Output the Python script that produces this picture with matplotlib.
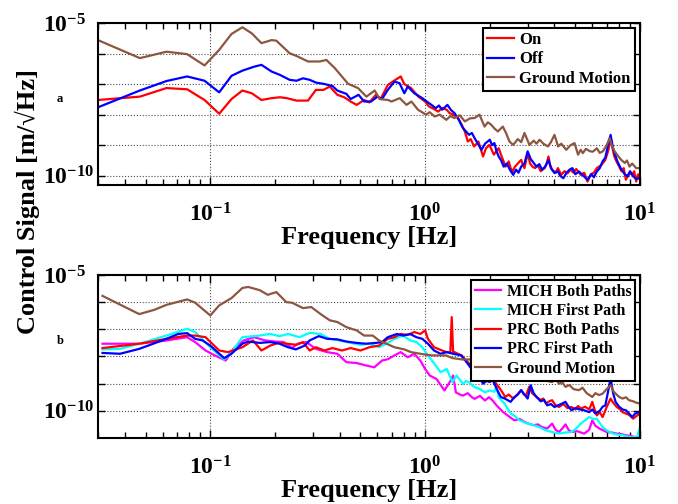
import numpy as np
import matplotlib
matplotlib.use("Agg")
from matplotlib import pyplot as plt
from matplotlib.ticker import FixedLocator, FixedFormatter, LogLocator, NullFormatter, NullLocator

plt.rcParams['font.family'] = ['Liberation Serif', 'DejaVu Serif']
plt.rcParams['font.weight'] = 'bold'
plt.rcParams['mathtext.fontset'] = 'custom'
plt.rcParams['mathtext.rm'] = 'Liberation Serif:bold'
plt.rcParams['mathtext.it'] = 'Liberation Serif:bold:italic'
plt.rcParams['mathtext.bf'] = 'Liberation Serif:bold'

# ---- panel a : levels are log10 of the signal ----
f_on = [0.030, 0.047, 0.0625, 0.078, 0.094, 0.110, 0.1255, 0.141, 0.156, 0.173,
        0.193, 0.211, 0.227, 0.252, 0.285, 0.31, 0.336, 0.36, 0.39, 0.42,
        0.45, 0.48, 0.52, 0.55, 0.59, 0.62, 0.67, 0.72, 0.77, 0.80,
        0.86, 0.93,
        1.00, 1.04, 1.09, 1.15, 1.20, 1.26, 1.30, 1.35, 1.42, 1.48,
        1.53, 1.58, 1.63, 1.69, 1.77, 1.82, 1.86, 1.92, 1.99, 2.04,
        2.09, 2.14, 2.20, 2.28, 2.37, 2.45, 2.50, 2.55, 2.62, 2.70,
        2.80, 2.85, 2.90, 3.00, 3.08, 3.16, 3.25, 3.35, 3.45, 3.60,
        3.68, 3.75, 3.82, 3.90, 4.05, 4.15, 4.30, 4.45, 4.60, 4.75,
        4.90, 5.05, 5.30, 5.50, 5.70, 5.90, 6.10, 6.30, 6.60, 6.90,
        7.10, 7.30, 7.45, 7.60, 7.80, 8.00, 8.20, 8.40, 8.60, 8.90,
        9.20, 9.40, 9.60, 9.80, 10.0]
v_on = [-7.52, -7.41, -7.13, -7.17, -7.52, -7.97, -7.49, -7.21, -7.30, -7.52,
        -7.46, -7.43, -7.46, -7.54, -7.54, -7.19, -7.19, -7.08, -7.35, -7.43,
        -7.57, -7.68, -7.52, -7.60, -7.35, -7.49, -7.03, -6.88, -6.75, -7.00,
        -7.13, -7.41,
        -7.57, -7.73, -7.80, -7.90, -7.78, -7.84, -7.95, -8.00, -8.10, -8.33,
        -8.55, -8.88, -8.80, -9.04, -8.88, -9.15, -9.37, -9.10, -8.99, -9.15,
        -9.31, -9.20, -9.10, -9.40, -9.70, -9.53, -9.75, -9.86, -9.70, -9.60,
        -9.48, -9.65, -9.75, -9.26, -9.60, -9.70, -9.75, -9.65, -9.85, -9.75,
        -9.60, -9.37, -9.65, -9.80, -9.90, -9.75, -9.97, -9.85, -9.92, -9.80,
        -9.90, -9.78, -9.97, -9.90, -10.19, -9.95, -9.90, -9.75, -9.65, -9.48,
        -9.20, -8.82, -9.10, -9.37, -9.55, -9.70, -9.85, -9.75, -10.13, -9.90,
        -9.97, -9.85, -10.19, -9.95, -10.10]

f_off = [0.030, 0.047, 0.0625, 0.078, 0.094, 0.110, 0.1255, 0.141, 0.160, 0.173,
         0.193, 0.211, 0.234, 0.252, 0.27, 0.29, 0.31, 0.336, 0.37, 0.39,
         0.43, 0.45, 0.49, 0.52, 0.56, 0.60, 0.63, 0.67, 0.72, 0.76,
         0.80, 0.83, 0.89,
         0.97, 1.04, 1.08, 1.12, 1.16, 1.20, 1.27, 1.32, 1.37, 1.43,
         1.50, 1.55, 1.60, 1.65, 1.70, 1.76, 1.83, 1.90, 2.00, 2.05,
         2.10, 2.15, 2.20, 2.26, 2.32, 2.40, 2.48, 2.57, 2.65, 2.72,
         2.80, 2.90, 3.00, 3.10, 3.20, 3.30, 3.40, 3.50, 3.62, 3.75,
         3.85, 4.00, 4.15, 4.25, 4.40, 4.55, 4.70, 4.85, 5.00, 5.20,
         5.45, 5.70, 5.95, 6.10, 6.30, 6.50, 6.70, 6.90, 7.10, 7.30,
         7.50, 7.80, 8.00, 8.20, 8.50, 8.80, 9.00, 9.30, 9.60, 10.0]
v_off = [-7.76, -7.21, -6.90, -6.75, -6.89, -7.27, -6.73, -6.56, -6.43, -6.37,
         -6.59, -6.70, -6.86, -6.89, -6.81, -6.86, -6.95, -6.99, -7.06, -7.21,
         -7.32, -7.49, -7.35, -7.57, -7.57, -7.41, -7.49, -7.19, -6.92, -6.97,
         -7.30, -7.08, -7.30,
         -7.46, -7.62, -7.70, -7.79, -7.70, -7.84, -7.68, -7.85, -7.95, -8.15,
         -8.44, -8.55, -8.66, -8.60, -8.77, -8.95, -9.15, -8.95, -8.82, -9.00,
         -8.93, -9.20, -9.37, -9.50, -9.70, -9.60, -9.80, -9.97, -9.80, -9.90,
         -9.70, -9.60, -9.20, -9.45, -9.58, -9.70, -9.62, -9.80, -9.70, -9.48,
         -9.75, -9.91, -9.85, -10.00, -10.08, -9.90, -9.80, -9.75, -9.95, -9.86,
         -10.00, -10.13, -9.95, -10.05, -9.86, -9.75, -9.53, -9.40, -9.00, -8.66,
         -9.10, -9.48, -9.65, -9.80, -9.95, -10.02, -9.85, -10.02, -10.10, -10.08]

f_gm_a = [0.030, 0.047, 0.0625, 0.078, 0.094, 0.110, 0.1255, 0.141, 0.156, 0.173,
          0.193, 0.203, 0.234, 0.252, 0.285, 0.323, 0.347, 0.38, 0.438, 0.487,
          0.533, 0.582, 0.615, 0.672, 0.697, 0.762, 0.819, 0.863, 0.927,
          1.01, 1.05, 1.107, 1.17, 1.255, 1.31, 1.37, 1.45, 1.53, 1.62,
          1.70, 1.79, 1.89, 1.96, 2.03, 2.10, 2.18, 2.30, 2.38, 2.47,
          2.57, 2.70, 2.80, 2.90, 3.06, 3.20, 3.30, 3.41, 3.55, 3.73,
          3.85, 4.00, 4.16, 4.30, 4.54, 4.75, 4.96, 5.15, 5.30, 5.42,
          5.60, 5.86, 6.04, 6.30, 6.50, 6.72, 7.00, 7.22, 7.40, 7.62,
          7.90, 8.18, 8.50, 8.70, 8.94, 9.20, 9.60, 10.0]
v_gm_a = [-5.56, -6.15, -5.94, -6.02, -6.39, -5.88, -5.36, -5.14, -5.34, -5.66,
          -5.56, -5.58, -5.99, -6.08, -6.26, -6.26, -6.21, -6.48, -6.99, -7.13,
          -7.41, -7.21, -7.49, -7.52, -7.57, -7.46, -7.68, -7.57, -7.84,
          -8.00, -7.92, -8.06, -8.00, -8.17, -8.05, -8.11, -8.02, -8.22, -8.12,
          -8.11, -8.00, -8.39, -8.25, -8.33, -8.45, -8.55, -8.39, -8.60, -8.88,
          -8.99, -8.80, -8.90, -8.60, -8.99, -8.85, -8.95, -8.82, -8.95, -9.04,
          -8.90, -8.66, -9.04, -8.95, -9.15, -9.00, -8.93, -9.31, -9.15, -9.26,
          -9.12, -9.20, -9.21, -9.10, -9.25, -9.20, -9.00, -8.77, -9.00, -9.20,
          -9.35, -9.48, -9.58, -9.50, -9.70, -9.60, -9.75, -9.75]

# ---- panel b ----
f_mich_both = [0.0315, 0.0467, 0.0625, 0.078, 0.085, 0.095, 0.105, 0.118, 0.128, 0.143,
               0.16, 0.18, 0.20, 0.22, 0.24, 0.255, 0.28, 0.31, 0.35, 0.39,
               0.43, 0.48, 0.53, 0.58, 0.63, 0.67, 0.72, 0.77, 0.83, 0.89,
               0.95, 1.00, 1.05, 1.13, 1.23, 1.30, 1.35,
               1.39, 1.45, 1.50, 1.58, 1.65, 1.70, 1.80, 1.90, 1.98, 2.05,
               2.15, 2.30, 2.45, 2.60, 2.75, 2.90, 3.05, 3.20, 3.35, 3.50,
               3.70, 3.90, 4.05, 4.20, 4.35, 4.50, 4.65, 4.80, 5.10, 5.50,
               5.80, 6.00, 6.20, 6.50, 6.75, 7.00, 7.40, 7.80, 8.20, 8.60,
               9.00, 9.50, 10.0]
v_mich_both = [-7.53, -7.53, -7.41, -7.29, -7.47, -7.78, -7.96, -8.15, -7.72, -7.41,
               -7.29, -7.41, -7.45, -7.47, -7.69, -7.53, -7.47, -7.72, -7.84, -7.90,
               -8.21, -8.24, -8.33, -8.40, -8.15, -8.10, -7.96, -7.84, -8.03, -7.90,
               -8.15, -8.46, -8.70, -8.83, -9.25, -8.95, -8.70,
               -9.32, -9.40, -9.44, -9.35, -9.50, -9.56, -9.45, -9.62, -9.50, -9.60,
               -9.80, -10.04, -10.20, -10.35, -10.30, -10.41, -10.48, -10.53, -10.50, -10.60,
               -10.65, -10.47, -10.70, -10.78, -10.65, -10.50, -10.70, -10.78, -10.75, -10.84,
               -10.70, -10.35, -10.55, -10.66, -10.72, -10.78, -10.80, -10.84, -10.86, -10.90,
               -10.92, -10.97, -10.98]

f_mich_first = [0.0315, 0.038, 0.0467, 0.0625, 0.078, 0.085, 0.100, 0.116, 0.1255, 0.141,
                0.16, 0.17, 0.19, 0.21, 0.23, 0.26, 0.29, 0.325, 0.36, 0.40,
                0.45, 0.50, 0.55, 0.61, 0.66, 0.72, 0.79, 0.85, 0.91, 0.97,
                1.03, 1.12, 1.18, 1.26, 1.34, 1.40,
                1.50, 1.55, 1.60, 1.65, 1.70, 1.80, 1.90, 2.00, 2.10, 2.15,
                2.20, 2.35, 2.50, 2.62, 2.75, 2.95, 3.20, 3.40, 3.65, 3.90,
                4.20, 4.50, 4.80, 5.05, 5.30, 5.55, 5.80, 6.05, 6.30, 6.50,
                6.70, 7.10, 7.50, 7.90, 8.30, 8.80, 9.20, 9.70, 10.0]
v_mich_first = [-7.74, -7.72, -7.53, -7.23, -6.98, -7.10, -7.66, -8.11, -7.84, -7.29,
                -7.25, -7.23, -7.17, -7.25, -7.17, -7.29, -7.13, -7.17, -7.35, -7.41,
                -7.50, -7.57, -7.53, -7.66, -7.53, -7.35, -7.23, -7.41, -7.47, -7.66,
                -7.96, -8.33, -8.58, -8.46, -8.95, -8.70,
                -9.01, -8.90, -8.95, -9.05, -9.13, -9.20, -9.32, -9.25, -9.30, -9.10,
                -9.50, -9.75, -10.10, -10.20, -10.35, -10.45, -10.53, -10.60, -10.72, -10.78,
                -10.84, -10.80, -10.78, -10.65, -10.47, -10.35, -10.23, -10.30, -10.29, -10.45,
                -10.60, -10.75, -10.84, -10.88, -10.90, -10.95, -10.97, -10.95, -10.60]

f_prc_both = [0.0315, 0.0467, 0.0625, 0.078, 0.085, 0.095, 0.110, 0.121, 0.141, 0.158,
              0.173, 0.19, 0.207, 0.227, 0.252, 0.27, 0.29, 0.31, 0.34, 0.37,
              0.41, 0.45, 0.50, 0.55, 0.61, 0.67, 0.72, 0.77, 0.83, 0.89,
              0.95, 1.00, 1.03, 1.10, 1.20, 1.26, 1.31, 1.33, 1.35,
              1.37, 1.42, 1.48, 1.53, 1.58, 1.65, 1.72, 1.80, 1.86, 1.92,
              2.00, 2.08, 2.14, 2.20, 2.28, 2.36, 2.45, 2.57, 2.65, 2.72,
              2.80, 2.88, 2.95, 3.05, 3.15, 3.30, 3.45, 3.55, 3.65, 3.78,
              3.90, 4.05, 4.20, 4.40, 4.60, 4.80, 5.00, 5.15, 5.30, 5.55,
              5.80, 6.00, 6.15, 6.30, 6.50, 6.70, 6.85, 7.00, 7.30, 7.50,
              7.80, 8.10, 8.30, 8.60, 8.90, 9.30, 9.60, 10.0]
v_prc_both = [-7.69, -7.53, -7.35, -7.23, -7.23, -7.29, -7.78, -7.84, -7.66, -7.41,
              -7.78, -7.60, -7.50, -7.53, -7.57, -7.47, -7.78, -7.66, -7.78, -7.69,
              -7.78, -7.69, -7.78, -7.66, -7.60, -7.35, -7.29, -7.17, -7.21, -7.10,
              -7.17, -7.04, -7.35, -7.66, -7.78, -7.84, -7.85, -6.55, -7.85,
              -7.84, -7.90, -7.96, -8.10, -8.21, -8.33, -8.50, -8.81, -8.70, -8.87,
              -8.75, -8.81, -9.00, -9.12, -9.30, -9.49, -9.40, -9.55, -9.45, -9.35,
              -9.24, -9.40, -9.43, -9.12, -9.35, -9.49, -9.60, -9.55, -9.73, -9.65,
              -9.61, -9.80, -9.86, -9.75, -9.90, -9.86, -9.95, -9.82, -9.92, -9.85,
              -9.95, -9.67, -9.95, -10.17, -10.05, -10.23, -10.05, -9.86, -9.55, -9.70,
              -9.86, -9.95, -10.05, -10.10, -10.15, -10.29, -10.20, -10.10]

f_prc_first = [0.0315, 0.038, 0.0467, 0.0625, 0.071, 0.078, 0.085, 0.092, 0.100, 0.116,
               0.1255, 0.141, 0.150, 0.17, 0.19, 0.21, 0.23, 0.25, 0.275, 0.29,
               0.32, 0.35, 0.39, 0.43, 0.48, 0.53, 0.59, 0.63, 0.67, 0.74,
               0.79, 0.85, 0.91, 0.97, 1.03, 1.10, 1.18, 1.26, 1.35,
               1.47, 1.52, 1.58, 1.64, 1.70, 1.75, 1.80, 1.86, 1.93, 2.00,
               2.05, 2.10, 2.17, 2.25, 2.35, 2.50, 2.60, 2.70, 2.80, 2.90,
               3.00, 3.10, 3.20, 3.30, 3.45, 3.58, 3.70, 3.85, 4.00, 4.15,
               4.30, 4.50, 4.65, 4.80, 5.00, 5.25, 5.50, 5.80, 6.00, 6.20,
               6.50, 6.70, 6.90, 7.10, 7.30, 7.50, 7.70, 8.00, 8.30, 8.60,
               8.90, 9.20, 9.50, 10.0]
v_prc_first = [-7.87, -7.90, -7.72, -7.35, -7.17, -7.14, -7.35, -7.41, -7.60, -8.06,
               -7.90, -7.53, -7.45, -7.50, -7.47, -7.53, -7.66, -7.74, -7.60, -7.41,
               -7.25, -7.35, -7.37, -7.45, -7.50, -7.53, -7.50, -7.47, -7.29, -7.17,
               -7.23, -7.17, -7.29, -7.35, -7.53, -7.78, -7.90, -7.84, -7.90,
               -7.96, -8.10, -8.27, -8.45, -8.64, -8.87, -8.80, -9.00, -8.90, -8.94,
               -8.85, -9.00, -9.25, -9.49, -9.55, -9.67, -9.50, -9.40, -9.24, -9.40,
               -9.55, -9.06, -9.35, -9.49, -9.65, -9.60, -9.80, -9.75, -9.86, -9.80,
               -9.75, -9.67, -9.85, -9.98, -9.90, -9.95, -9.98, -10.05, -9.95, -10.10,
               -10.00, -9.85, -9.80, -9.30, -8.81, -9.35, -9.67, -9.85, -9.95, -9.98,
               -10.10, -10.23, -10.10, -10.04]

f_gm_b = [0.0315, 0.0467, 0.055, 0.0625, 0.078, 0.085, 0.100, 0.110, 0.1255, 0.141,
          0.150, 0.170, 0.185, 0.203, 0.226, 0.24, 0.27, 0.295, 0.325, 0.36,
          0.39, 0.43, 0.48, 0.52, 0.57, 0.61, 0.66, 0.72, 0.80, 0.86,
          0.95, 1.07, 1.25, 1.34, 1.49, 1.65, 1.85, 2.10, 2.40,
          2.70, 2.80, 2.95, 3.10, 3.30, 3.40, 3.55, 3.70, 3.90, 4.05,
          4.20, 4.35, 4.50, 4.70, 4.90, 5.20, 5.40, 5.65, 6.00, 6.20,
          6.45, 6.70, 7.00, 7.30, 7.55, 8.00, 8.30, 8.60, 8.90, 9.30,
          9.60, 10.0]
v_gm_b = [-5.77, -6.44, -6.28, -6.10, -5.90, -6.02, -6.49, -6.12, -5.85, -5.48,
          -5.44, -5.56, -5.73, -5.63, -6.00, -6.02, -6.22, -6.18, -6.43, -6.67,
          -6.73, -6.92, -7.04, -7.23, -7.23, -7.41, -7.53, -7.66, -7.74, -7.84,
          -7.90, -7.96, -7.96, -8.06, -8.11, -8.11, -8.25, -8.40, -8.55,
          -8.65, -8.78, -8.75, -8.70, -8.81, -8.87, -8.75, -8.90, -8.94, -8.85,
          -9.00, -8.95, -9.12, -9.05, -9.20, -9.24, -9.15, -9.35, -9.49, -9.35,
          -9.42, -9.37, -9.20, -9.06, -9.30, -9.49, -9.55, -9.50, -9.61, -9.65,
          -9.70, -9.73]

brown = '#8c5640'
lw = 1.6


def setup_axes(ax, ylim):
    ax.set_xscale('log')
    ax.set_yscale('log')
    ax.set_xlim(0.03, 10)
    ax.set_ylim(*ylim)
    ax.xaxis.set_major_locator(FixedLocator([0.1, 1, 10]))
    ax.xaxis.set_major_formatter(FixedFormatter([r'$10^{-1}$', r'$10^{0}$', r'$10^{1}$']))
    ax.xaxis.set_minor_locator(LogLocator(base=10, subs=np.arange(2, 10)))
    ax.xaxis.set_minor_formatter(NullFormatter())
    ax.yaxis.set_major_locator(FixedLocator([1e-10, 1e-9, 1e-8, 1e-7, 1e-6, 1e-5]))
    ax.yaxis.set_major_formatter(FixedFormatter([r'$10^{-10}$', '', '', '', '', r'$10^{-5}$']))
    ax.yaxis.set_minor_locator(NullLocator())
    ax.tick_params(which='both', direction='in', top=True, right=True, labelsize=17, width=1)
    ax.tick_params(axis='x', which='major', length=6, pad=13)
    ax.tick_params(axis='x', which='minor', length=4)
    ax.tick_params(axis='y', which='major', length=5, pad=39.5)
    for t in ax.get_yticklabels():
        t.set_horizontalalignment('left')
    ax.grid(True, which='major', linestyle=':', color='0.3', linewidth=0.8)
    for s in ax.spines.values():
        s.set_linewidth(1.5)
    ax.set_xlabel('Frequency [Hz]', fontsize=19, fontweight='bold', labelpad=0)


def legend(ax, size):
    leg = ax.legend(loc='upper right', fancybox=False, framealpha=1, edgecolor='k',
                    borderaxespad=0.3, handlelength=1.6, handletextpad=0.35,
                    labelspacing=0.2, borderpad=0.25, prop={'weight': 'bold', 'size': size})
    leg.get_frame().set_linewidth(1.5)


fig = plt.figure(figsize=(6.78, 5.04), dpi=100)
ax1 = fig.add_axes([0.1445, 0.633, 0.7994, 0.3214])
ax2 = fig.add_axes([0.1445, 0.131, 0.7994, 0.3234])

ax1.plot(f_on, 10.0 ** np.array(v_on), color='red', lw=lw, label='On')
ax1.plot(f_off, 10.0 ** np.array(v_off), color='blue', lw=lw, label='Off')
ax1.plot(f_gm_a, 10.0 ** np.array(v_gm_a), color=brown, lw=lw, label='Ground Motion')
setup_axes(ax1, (5e-11, 1e-5))
legend(ax1, 12)

ax2.plot(f_mich_both, 10.0 ** np.array(v_mich_both), color='magenta', lw=lw, label='MICH Both Paths')
ax2.plot(f_mich_first, 10.0 ** np.array(v_mich_first), color='cyan', lw=lw, label='MICH First Path')
ax2.plot(f_prc_both, 10.0 ** np.array(v_prc_both), color='red', lw=lw, label='PRC Both Paths')
ax2.plot(f_prc_first, 10.0 ** np.array(v_prc_first), color='blue', lw=lw, label='PRC First Path')
ax2.plot(f_gm_b, 10.0 ** np.array(v_gm_b), color=brown, lw=lw, label='Ground Motion')
setup_axes(ax2, (1e-11, 1e-5))
legend(ax2, 11.5)

fig.text(27 / 678, 1 - 201 / 504, u'Control Signal [m/\u221aHz]', rotation=90,
         ha='center', va='center', fontsize=19, fontweight='bold')
fig.text(60 / 678, 1 - 99 / 504, 'a', ha='center', va='center', fontsize=9, fontweight='bold')
fig.text(60 / 678, 1 - 341 / 504, 'b', ha='center', va='center', fontsize=9, fontweight='bold')

plt.savefig('out.png', dpi=100)
